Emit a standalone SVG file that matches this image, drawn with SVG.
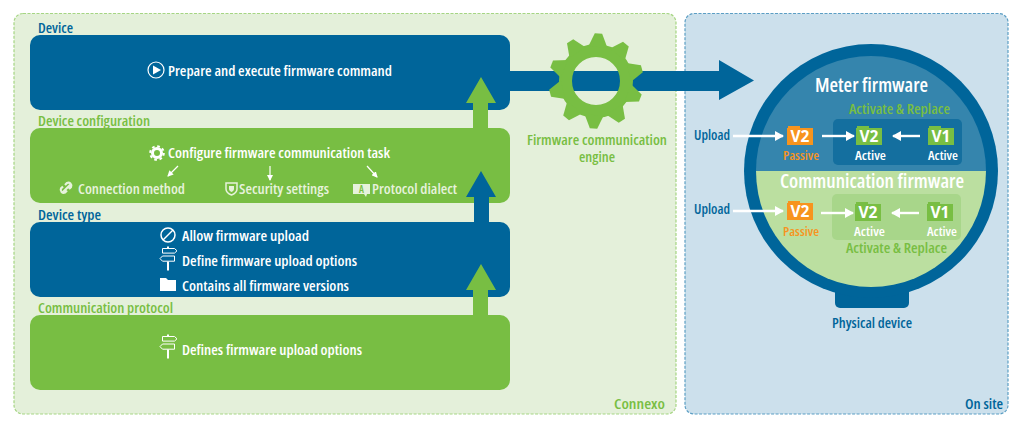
<svg xmlns="http://www.w3.org/2000/svg" xmlns:xlink="http://www.w3.org/1999/xlink" width="1020" height="426" viewBox="0 0 1020 426">
<style>
text{font-family:"Open Sans","Noto Sans","Liberation Sans",sans-serif;font-weight:600;font-stretch:75%;font-size:14.5px;fill:#fff}
.b{fill:#00659a}.g{fill:#78be43}.o{fill:#f7941e}.d{fill:#e6f2dc}
.h{font-size:19px}.s{font-size:12.5px}.v{font-size:15.500px;font-weight:700;font-stretch:100%;text-anchor:middle}
.ln{fill:none;stroke:#fff;stroke-width:1.2}
.fw{fill:none;stroke:#fff;stroke-width:2.4}
</style>
<defs>
<marker id="ah" markerUnits="userSpaceOnUse" markerWidth="9" markerHeight="10" refX="8" refY="5" orient="auto"><path d="M0 0L9 5L0 10z" fill="#fff"/></marker>
<marker id="as" markerUnits="userSpaceOnUse" markerWidth="6" markerHeight="6" refX="5" refY="3" orient="auto"><path d="M0 0L6 3L0 6z" fill="#fff"/></marker>
<polygon id="tooth" points="-3.700,-47.500 3.700,-47.500 9.500,-34 -9.500,-34" fill="#78be43"/>
<g id="post" fill="none" stroke="#fff" stroke-width="1"><path d="M168 246.500v2M168 261.500v9" stroke-width="2"/><path d="M162.500 248.500h12l2.500 2.300l-2.500 2.300h-12zM174.500 256h-12l-2.500 2.600l2.500 2.600h12z"/></g>
<path id="fold" d="M1 -2h12v2h-12zM0 0h26v17h-26z"/>
</defs>
<g id="connexo">
<rect x="14" y="13.500" width="662" height="400.500" rx="9" fill="#e4f0da" stroke="#a5d583" stroke-width="1.200" stroke-dasharray="3 1.500"/>
<text x="614" y="409" class="g" textLength="51" lengthAdjust="spacingAndGlyphs">Connexo</text>
</g>
<g id="on-site">
<rect x="685" y="13.500" width="323" height="400.500" rx="9" fill="#cce0ec" stroke="#5b9ec4" stroke-width="1.200" stroke-dasharray="3 1.500"/>
<text x="965" y="409" class="b" textLength="38" lengthAdjust="spacingAndGlyphs">On site</text>
</g>
<g id="device">
<text x="38" y="33" class="b" textLength="35" lengthAdjust="spacingAndGlyphs">Device</text>
<rect x="30" y="35" width="480" height="75" rx="10" fill="#00659a"/>
<circle cx="156" cy="70" r="8" fill="none" stroke="#fff" stroke-width="1.200"/><path d="M153 65.500L161 70L153 74.500z" fill="#fff"/>
<text x="168" y="76" textLength="224" lengthAdjust="spacingAndGlyphs">Prepare and execute firmware command</text>
</g>
<g id="device-configuration">
<text x="38" y="126" class="g" textLength="112" lengthAdjust="spacingAndGlyphs">Device configuration</text>
<rect x="30" y="128" width="480" height="75" rx="10" fill="#78be43"/>
<circle cx="157" cy="153" r="4.500" fill="none" stroke="#fff" stroke-width="3"/><circle cx="157" cy="153" r="6.800" fill="none" stroke="#fff" stroke-width="2" stroke-dasharray="2.700 2.640"/>
<text x="168" y="158" textLength="222" lengthAdjust="spacingAndGlyphs">Configure firmware communication task</text>
<path d="M71 184l-8 8M63 186.500l-2 2a3 3 0 0 0 4 4l2-2M69 189l2-2a3 3 0 0 0-4-4l-2 2" fill="none" stroke="#e6f2dc" stroke-width="2.200"/>
<path d="M226 183h11v6c0 3-3 5-5.500 6c-2.500-1-5.500-3-5.500-6z" fill="none" stroke="#e6f2dc" stroke-width="1.500"/><path d="M229 186h5v3c0 1.500-1.500 2.500-2.500 3c-1-.5-2.500-1.500-2.500-3z" fill="#e6f2dc"/>
<text x="78" y="194" class="d" textLength="107" lengthAdjust="spacingAndGlyphs">Connection method</text>
<text x="239" y="194" class="d" textLength="90" lengthAdjust="spacingAndGlyphs">Security settings</text>
<path d="M353 184h17v10h-3l-1 3l-2-3h-11z" fill="#e6f2dc"/>
<text x="361.500" y="193" style="fill:#78be43;text-anchor:middle;font-size:10px">A</text>
<text x="372" y="194" class="d" textLength="85" lengthAdjust="spacingAndGlyphs">Protocol dialect</text>
</g>
<g id="device-type">
<text x="38" y="220" class="b" textLength="63" lengthAdjust="spacingAndGlyphs">Device type</text>
<rect x="30" y="222" width="480" height="75" rx="10" fill="#00659a"/>
<circle cx="168" cy="235" r="7" fill="none" stroke="#fff" stroke-width="1.500"/><path d="M163 240L173 230" stroke="#fff" stroke-width="1.500"/>
<use xlink:href="#post"/>
<path d="M160 278h6l2 2h8v11h-16z" fill="#fff"/>
<text x="182" y="241" textLength="127" lengthAdjust="spacingAndGlyphs">Allow firmware upload</text>
<text x="182" y="266" textLength="175" lengthAdjust="spacingAndGlyphs">Define firmware upload options</text>
<text x="182" y="291" textLength="167" lengthAdjust="spacingAndGlyphs">Contains all firmware versions</text>
</g>
<g id="communication-protocol">
<text x="38" y="313" class="g" textLength="135" lengthAdjust="spacingAndGlyphs">Communication protocol</text>
<rect x="30" y="315" width="480" height="75" rx="10" fill="#78be43"/>
<use xlink:href="#post" y="88"/>
<text x="182" y="355" textLength="180" lengthAdjust="spacingAndGlyphs">Defines firmware upload options</text>
</g>
<g id="physical-device">
<path d="M835 290h74v13a5 5 0 0 1-5 5h-64a5 5 0 0 1-5-5z" fill="#00659a"/>
<circle cx="871" cy="171" r="127" fill="#00659a"/>
<path d="M756 171a115 115 0 0 1 230 0z" fill="#3585ad"/>
<path d="M756 171a115 116 0 0 0 230 0z" fill="#bbdfa0"/>
<text x="832" y="328" class="b" textLength="80" lengthAdjust="spacingAndGlyphs">Physical device</text>
</g>
<g id="meter-firmware">
<text x="815" y="92" class="h" textLength="113" lengthAdjust="spacingAndGlyphs">Meter firmware</text>
<text x="849" y="114" class="g" textLength="101" lengthAdjust="spacingAndGlyphs">Activate &amp; Replace</text>
<rect x="833" y="119" width="129" height="46" rx="5" fill="#146f9f"/>
<use xlink:href="#fold" x="787" y="128" fill="#f7941e"/><text x="800" y="141.500" class="v">V2</text>
<use xlink:href="#fold" x="856" y="128" fill="#78be43"/><text x="869" y="141.500" class="v">V2</text>
<use xlink:href="#fold" x="928" y="128" fill="#78be43"/><text x="941" y="141.500" class="v">V1</text>
<text x="783" y="159.500" class="s o" textLength="36" lengthAdjust="spacingAndGlyphs">Passive</text>
<text x="855" y="159.500" class="s" textLength="31" lengthAdjust="spacingAndGlyphs">Active</text>
<text x="928" y="159.500" class="s" textLength="30" lengthAdjust="spacingAndGlyphs">Active</text>
</g>
<g id="communication-firmware">
<text x="780" y="188" class="h" textLength="184" lengthAdjust="spacingAndGlyphs">Communication firmware</text>
<rect x="832" y="194" width="129" height="46" rx="5" fill="#a8d68a"/>
<use xlink:href="#fold" x="787" y="203" fill="#f7941e"/><text x="800" y="217" class="v">V2</text>
<use xlink:href="#fold" x="855" y="204" fill="#78be43"/><text x="868" y="217.500" class="v">V2</text>
<use xlink:href="#fold" x="927" y="204" fill="#78be43"/><text x="940" y="217.500" class="v">V1</text>
<text x="783" y="235.500" class="s o" textLength="36" lengthAdjust="spacingAndGlyphs">Passive</text>
<text x="854" y="235.500" class="s" textLength="31" lengthAdjust="spacingAndGlyphs">Active</text>
<text x="927" y="235.500" class="s" textLength="30" lengthAdjust="spacingAndGlyphs">Active</text>
<text x="846" y="253" class="g" textLength="101" lengthAdjust="spacingAndGlyphs">Activate &amp; Replace</text>
</g>
<g id="connectors">
<path d="M510 71H719V60L754 80.500L719 100V91H510z" fill="#00659a"/>
<path d="M473 128V103H466L481 77L496 103H488V128z" fill="#78be43"/>
<path d="M474 222V197H466L481 171L496 197H489V222z" fill="#00659a"/>
<path d="M473 315V290H466L481 264L496 290H488V315z" fill="#78be43"/>
<path class="fw" d="M733 136H783" marker-end="url(#ah)"/>
<path class="fw" d="M822 136H854" marker-end="url(#ah)"/>
<path class="fw" d="M920 136H893" marker-end="url(#ah)"/>
<path class="fw" d="M733 211H783" marker-end="url(#ah)"/>
<path class="fw" d="M821 213H853" marker-end="url(#ah)"/>
<path class="fw" d="M919 213H892" marker-end="url(#ah)"/>
<path class="ln" d="M178 166L168 176" marker-end="url(#as)"/>
<path class="ln" d="M270 166V180" marker-end="url(#as)"/>
<path class="ln" d="M367 166L377 177" marker-end="url(#as)"/>
</g>
<g id="upload-labels">
<text x="694" y="140" class="b" textLength="36" lengthAdjust="spacingAndGlyphs">Upload</text>
<text x="694" y="214" class="b" textLength="36" lengthAdjust="spacingAndGlyphs">Upload</text>
</g>
<g id="firmware-communication-engine">
<circle cx="596" cy="81" r="30.500" fill="none" stroke="#78be43" stroke-width="13"/>
<g transform="translate(596 81)">
<use xlink:href="#tooth" transform="rotate(3)"/><use xlink:href="#tooth" transform="rotate(39)"/><use xlink:href="#tooth" transform="rotate(75)"/><use xlink:href="#tooth" transform="rotate(111)"/><use xlink:href="#tooth" transform="rotate(147)"/><use xlink:href="#tooth" transform="rotate(183)"/><use xlink:href="#tooth" transform="rotate(219)"/><use xlink:href="#tooth" transform="rotate(255)"/><use xlink:href="#tooth" transform="rotate(291)"/><use xlink:href="#tooth" transform="rotate(327)"/>
</g>
<text x="527" y="145" class="g" textLength="140" lengthAdjust="spacingAndGlyphs">Firmware communication</text>
<text x="579" y="162" class="g" textLength="36" lengthAdjust="spacingAndGlyphs">engine</text>
</g>
</svg>
